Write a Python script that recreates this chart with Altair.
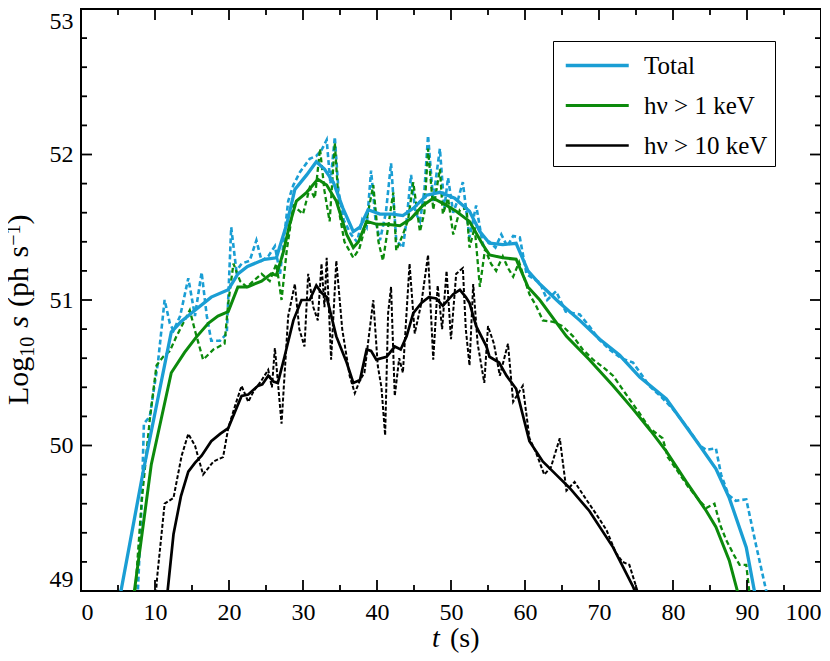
import altair as alt
import pandas as pd

SERIES = ["Total", "hν > 1 keV", "hν > 10 keV"]
COLORS = ["#1a9ed4", "#0c8a0c", "#000000"]

# ---- Total (solid, smoothed) ----
total_t = [5.0, 8.4, 12.2, 13.5, 15.4, 17.6, 19.9, 21.2, 22.5, 24.8, 26.4, 27.8, 28.9, 30.5, 31.8,
           32.9, 34.1, 35.4, 36.8, 37.7, 38.8, 40.4, 42.1, 43.5, 44.9, 46.7, 48.5, 50.5, 52.5, 53.9,
           55.2, 57.0, 58.8, 60.4, 62.0, 64.7, 67.4, 70.1, 72.8, 75.5, 79.1, 83.6, 85.8, 87.6, 89.9,
           91.0, 91.5]
total_v = [48.89, 49.82, 50.78, 50.85, 50.93, 51.02, 51.07, 51.18, 51.23, 51.28, 51.29, 51.52, 51.76,
           51.86, 51.95, 51.90, 51.81, 51.63, 51.47, 51.50, 51.62, 51.59, 51.59, 51.58, 51.63, 51.72,
           51.74, 51.70, 51.61, 51.47, 51.39, 51.38, 51.39, 51.20, 51.11, 50.98, 50.86, 50.73, 50.62,
           50.47, 50.32, 50.00, 49.84, 49.64, 49.30, 49.00, 48.85]

# ---- Total (dashed, raw) ----
total_raw_t = [7.6, 8.2, 8.5, 9.3, 10.4, 11.3, 12.0, 12.5, 13.4, 14.5, 15.4, 16.3, 17.0, 17.6, 18.8,
               19.7, 20.3, 21.0, 21.7, 22.8, 23.7, 24.4, 25.3, 26.2, 26.9, 28.0, 28.7, 29.6, 30.9,
               31.8, 32.5, 33.2, 33.7, 34.3, 34.8, 35.5, 36.5, 37.3, 38.0, 38.6, 39.2, 39.8, 40.4,
               41.2, 41.9, 42.6, 43.5, 44.0, 44.6, 45.2, 45.8, 46.4, 46.9, 47.6, 48.0, 48.5, 49.1,
               49.6, 50.3, 51.0, 51.6, 52.5, 53.4, 54.3, 55.2, 56.0, 56.8, 57.6, 58.4, 59.3, 60.2,
               61.0, 62.0, 63.0, 64.2, 65.5, 67.4, 68.7, 70.0, 71.4, 73.0, 74.6, 76.8, 78.5, 80.0,
               82.0, 83.6, 84.5, 85.8, 86.5, 87.5, 88.5, 89.9, 91.2, 92.6, 93.0]
total_raw_v = [48.90, 49.60, 50.15, 50.20, 50.57, 51.00, 50.84, 50.79, 50.89, 51.15, 50.89, 51.19,
               50.89, 50.72, 50.72, 50.77, 51.50, 51.20, 51.25, 51.27, 51.41, 51.27, 51.30, 51.37,
               51.18, 51.68, 51.79, 51.88, 51.97, 51.99, 52.03, 52.10, 51.80, 52.12, 51.75, 51.55,
               51.45, 51.40, 51.55, 51.50, 51.89, 51.55, 51.41, 51.60, 51.94, 51.41, 51.36, 51.55,
               51.86, 51.60, 51.54, 51.75, 52.13, 51.68, 51.85, 52.04, 51.63, 51.84, 51.60, 51.70,
               51.81, 51.43, 51.65, 51.38, 51.40, 51.36, 51.45, 51.37, 51.44, 51.43, 51.18, 51.15,
               51.12, 51.00, 51.06, 50.92, 50.90, 50.82, 50.73, 50.66, 50.60, 50.57, 50.41, 50.33,
               50.25, 50.12, 50.00, 49.97, 49.98, 49.80, 49.66, 49.62, 49.63, 49.32, 49.00, 48.90]

# ---- h nu > 1 keV (solid) ----
soft_t = [6.9, 9.5, 12.2, 14.0, 15.5, 17.2, 18.5, 19.9, 21.2, 22.5, 24.4, 25.7, 26.4, 27.3, 28.2,
          29.1, 30.5, 32.0, 33.2, 34.5, 35.9, 36.8, 37.5, 38.6, 40.0, 41.3, 43.1, 44.6, 46.2, 47.6,
          49.4, 50.7, 52.5, 54.3, 55.2, 57.0, 58.8, 60.4, 62.0, 65.6, 68.7, 71.9, 74.6, 77.0, 79.1,
          81.8, 84.5, 85.8, 87.6, 88.7, 89.0]
soft_v = [48.88, 49.87, 50.50, 50.64, 50.74, 50.84, 50.89, 50.92, 51.09, 51.09, 51.13, 51.18, 51.17,
          51.32, 51.52, 51.68, 51.74, 51.83, 51.79, 51.68, 51.45, 51.36, 51.40, 51.54, 51.52, 51.52,
          51.51, 51.56, 51.65, 51.70, 51.65, 51.61, 51.54, 51.38, 51.31, 51.29, 51.28, 51.09, 51.00,
          50.75, 50.59, 50.41, 50.25, 50.10, 49.96, 49.75, 49.55, 49.44, 49.21, 49.00, 48.93]

# ---- h nu > 1 keV (dashed) ----
soft_raw_t = [7.2, 8.2, 9.3, 10.2, 11.1, 12.0, 12.9, 13.8, 14.7, 15.4, 16.5, 17.9, 19.4, 19.9, 20.6,
              21.5, 22.4, 23.3, 24.4, 25.5, 26.4, 27.1, 27.8, 28.7, 30.0, 30.9, 31.6, 32.3, 32.9,
              33.6, 34.3, 34.9, 35.6, 36.8, 37.6, 38.4, 39.5, 40.2, 40.8, 41.5, 42.2, 42.6, 43.5,
              44.2, 44.9, 45.8, 46.4, 46.9, 47.6, 48.5, 48.9, 49.6, 50.3, 51.2, 52.1, 52.5, 53.2,
              53.9, 54.6, 55.4, 56.1, 57.0, 57.7, 58.4, 59.2, 60.6, 61.5, 62.4, 63.8, 65.1, 66.5,
              67.8, 69.2, 70.5, 71.9, 73.0, 74.1, 75.5, 76.8, 78.6, 79.3, 80.4, 82.0, 83.6, 84.5,
              85.6, 86.4, 87.2, 88.2, 89.0, 89.9, 90.3, 90.5]
soft_raw_v = [48.90, 49.62, 50.18, 50.55, 50.61, 50.65, 50.75, 50.84, 50.93, 50.79, 50.59, 50.66,
              50.70, 50.98, 51.25, 51.13, 51.09, 51.13, 51.18, 51.13, 51.25, 51.00, 51.34, 51.65,
              51.59, 51.77, 51.70, 52.04, 51.75, 51.54, 52.08, 51.60, 51.40, 51.29, 51.35, 51.50,
              51.79, 51.40, 51.27, 51.50, 51.74, 51.34, 51.45, 51.55, 51.81, 51.47, 51.60, 52.04,
              51.62, 51.90, 51.59, 51.70, 51.45, 51.62, 51.63, 51.36, 51.50, 51.09, 51.35, 51.25,
              51.20, 51.30, 51.22, 51.16, 51.26, 51.04, 50.96, 50.86, 50.85, 50.82, 50.75, 50.66,
              50.59, 50.54, 50.48, 50.40, 50.32, 50.22, 50.12, 50.05, 49.92, 49.84, 49.72, 49.62,
              49.57, 49.60, 49.45, 49.35, 49.25, 49.18, 49.18, 49.00, 48.90]

# ---- h nu > 10 keV (solid) ----
hard_t = [11.5, 12.5, 13.5, 14.5, 15.4, 16.3, 17.6, 18.8, 19.9, 20.8, 21.7, 22.6, 23.9, 24.5, 25.3,
          26.0, 26.6, 27.5, 28.7, 29.8, 30.9, 31.8, 32.5, 33.2, 34.5, 35.9, 36.8, 37.7, 38.6, 39.2,
          39.9, 41.3, 42.4, 43.2, 44.0, 44.9, 46.0, 47.0, 48.0, 48.9, 50.3, 51.2, 52.0, 52.5, 53.4,
          54.8, 55.2, 56.5, 57.5, 58.8, 59.7, 60.6, 62.4, 64.2, 66.0, 68.7, 71.9, 74.6, 75.0, 75.3]
hard_v = [48.90, 49.39, 49.65, 49.82, 49.88, 49.93, 50.03, 50.08, 50.12, 50.23, 50.34, 50.35, 50.41,
          50.42, 50.48, 50.44, 50.43, 50.61, 50.86, 51.00, 51.00, 51.10, 51.05, 51.02, 50.75, 50.57,
          50.43, 50.45, 50.66, 50.65, 50.59, 50.61, 50.68, 50.66, 50.75, 50.91, 50.98, 51.02, 51.01,
          50.96, 51.04, 51.07, 51.02, 50.98, 50.82, 50.68, 50.61, 50.57, 50.48, 50.39, 50.21, 50.03,
          49.89, 49.80, 49.71, 49.55, 49.30, 49.03, 48.98, 48.90]

# ---- h nu > 10 keV (dashed) ----
hard_raw_t = [10.0, 10.3, 11.3, 12.5, 13.6, 14.5, 15.4, 16.5, 17.9, 19.2, 19.9, 20.8, 21.7, 22.6,
              23.4, 24.3, 25.3, 25.8, 26.2, 27.1, 28.0, 28.9, 29.5, 30.2, 30.7, 31.4, 32.0, 32.5,
              32.9, 33.2, 33.8, 34.5, 35.3, 36.3, 37.0, 37.7, 38.3, 39.5, 40.1, 40.6, 41.1, 41.5,
              41.9, 42.4, 43.0, 43.5, 44.4, 45.1, 46.0, 46.9, 47.6, 48.2, 48.8, 49.4, 50.0, 50.7,
              51.6, 52.0, 52.5, 53.0, 53.6, 54.5, 55.0, 55.8, 56.6, 57.7, 58.4, 59.7, 60.6, 61.5,
              62.6, 63.5, 64.7, 65.6, 66.7, 68.0, 69.6, 71.0, 72.3, 73.2, 74.1, 75.2, 75.4]
hard_raw_v = [48.90, 49.10, 49.60, 49.64, 49.93, 50.08, 50.00, 49.80, 49.89, 49.92, 50.12, 50.27,
              50.41, 50.30, 50.38, 50.44, 50.52, 50.40, 50.67, 50.15, 50.89, 51.11, 50.80, 50.68,
              51.18, 50.95, 50.86, 51.25, 50.95, 51.29, 50.59, 51.27, 50.80, 50.48, 50.36, 50.45,
              50.50, 51.00, 50.55, 50.40, 50.07, 50.91, 51.09, 50.34, 50.60, 50.50, 51.25, 50.77,
              50.98, 51.31, 50.59, 51.10, 50.80, 51.20, 50.73, 51.18, 51.22, 50.80, 50.55, 51.11,
              50.70, 50.43, 50.82, 50.70, 50.48, 50.70, 50.30, 50.41, 50.05, 49.95, 49.80, 49.85,
              50.05, 49.69, 49.75, 49.65, 49.53, 49.42, 49.26, 49.20, 49.18, 49.00, 48.95]

x_major = [0, 10, 20, 30, 40, 50, 60, 70, 80, 90, 100]
x_minor = [5, 15, 25, 35, 45, 55, 65, 75, 85, 95]
y_major = [49, 50, 51, 52, 53]
y_minor = [49.2, 49.4, 49.6, 49.8, 50.2, 50.4, 50.6, 50.8, 51.2, 51.4, 51.6, 51.8,
           52.2, 52.4, 52.6, 52.8]


def frame(ts, vs, name):
    return pd.DataFrame({"t": ts, "v": vs, "series": name})


solid_df = pd.concat([frame(total_t, total_v, SERIES[0]),
                      frame(soft_t, soft_v, SERIES[1]),
                      frame(hard_t, hard_v, SERIES[2])], ignore_index=True)
dashed_df = pd.concat([frame(total_raw_t, total_raw_v, SERIES[0]),
                       frame(soft_raw_t, soft_raw_v, SERIES[1]),
                       frame(hard_raw_t, hard_raw_v, SERIES[2])], ignore_index=True)

W, H = 740, 582
FONT = "Liberation Serif"

x_scale = alt.Scale(domain=[0, 100], nice=False, zero=False)
y_scale = alt.Scale(domain=[49, 53], nice=False, zero=False)
x_axis = alt.Axis(values=x_major, labelFlush=True, labelPadding=9, title=None, ticks=False,
                  domain=False, grid=False, labelFont=FONT, labelFontSize=24, labelColor="black")
y_axis = alt.Axis(values=y_major, format="d", labelFlush=True, labelPadding=8, title=None,
                  ticks=False, domain=False, grid=False, labelFont=FONT, labelFontSize=24,
                  labelColor="black")
X = alt.X("t:Q", scale=x_scale, axis=x_axis)
Y = alt.Y("v:Q", scale=y_scale, axis=y_axis)

# legend line: custom horizontal path (63 px long)
legend = alt.Legend(title=None, orient="none", legendX=472, legendY=32,
                    symbolType="M-0.746,0H3.254", symbolSize=992,
                    labelFont=FONT, labelFontSize=25, labelColor="black",
                    labelOffset=49, padding=7, rowPadding=9, strokeColor="black")

solid = alt.Chart(solid_df).mark_line(clip=True).encode(
    x=X, y=Y,
    color=alt.Color("series:N", scale=alt.Scale(domain=SERIES, range=COLORS), legend=legend),
    strokeWidth=alt.StrokeWidth("series:N", scale=alt.Scale(domain=SERIES, range=[3.3, 2.7, 2.3]),
                                legend=legend),
)

dashed = alt.Chart(dashed_df).mark_line(clip=True).encode(
    x=X, y=Y,
    color=alt.Color("series:N", scale=alt.Scale(domain=SERIES, range=COLORS), legend=None),
    strokeWidth=alt.StrokeWidth("series:N", scale=alt.Scale(domain=SERIES, range=[2.6, 2.0, 1.0]),
                                legend=None),
    strokeDash=alt.StrokeDash("series:N", scale=alt.Scale(domain=SERIES, range=[[5, 3], [5, 3], [4, 2]]),
                              legend=None),
)

xmaj = pd.DataFrame({"t": x_major})
xmin = pd.DataFrame({"t": x_minor})
ymaj = pd.DataFrame({"v": y_major})
ymin = pd.DataFrame({"v": y_minor})
TW = 1.8
ticks = [
    alt.Chart(xmaj).mark_rule(color="black", strokeWidth=TW).encode(x=X, y=alt.value(H), y2=alt.value(H - 11)),
    alt.Chart(xmaj).mark_rule(color="black", strokeWidth=TW).encode(x=X, y=alt.value(0), y2=alt.value(11)),
    alt.Chart(xmin).mark_rule(color="black", strokeWidth=TW).encode(x=X, y=alt.value(H), y2=alt.value(H - 6)),
    alt.Chart(xmin).mark_rule(color="black", strokeWidth=TW).encode(x=X, y=alt.value(0), y2=alt.value(6)),
    alt.Chart(ymaj).mark_rule(color="black", strokeWidth=TW).encode(y=Y, x=alt.value(0), x2=alt.value(11)),
    alt.Chart(ymaj).mark_rule(color="black", strokeWidth=TW).encode(y=Y, x=alt.value(W), x2=alt.value(W - 11)),
    alt.Chart(ymin).mark_rule(color="black", strokeWidth=TW).encode(y=Y, x=alt.value(0), x2=alt.value(6)),
    alt.Chart(ymin).mark_rule(color="black", strokeWidth=TW).encode(y=Y, x=alt.value(W), x2=alt.value(W - 6)),
]

one = alt.Data(values=[{"k": 1}])


def label(text, x, y, size, italic=False, angle=0):
    kw = dict(align="left", baseline="alphabetic", font=FONT, fontSize=size, color="black")
    if italic:
        kw["fontStyle"] = "italic"
    if angle:
        kw["angle"] = angle
    return alt.Chart(one).mark_text(**kw).encode(x=alt.value(x), y=alt.value(y), text=alt.value(text))


# axis titles built from pieces (italic / sub / superscript)
BX = -53
TF, SF = 30, 20
titles = [
    label("t", 351, 638, 28, italic=True),
    label("(s)", 369, 638, 28),
    label("Log", BX, 396, TF, angle=270),
    label("10", BX + 6, 347.7, SF, angle=270),
    label("s", BX, 318.7, TF, italic=True, angle=270),
    label("(ph", BX, 298.0, TF, angle=270),
    label("s", BX, 248.5, TF, angle=270),
    label("\u22121", BX - 8, 236.8, SF, angle=270),
    label(")", BX, 215.5, TF, angle=270),
]

chart = alt.layer(dashed, solid, *ticks, *titles).resolve_scale(
    color="independent", strokeWidth="independent", strokeDash="independent"
).properties(
    width=W, height=H,
    autosize=alt.AutoSizeParams(type="none"),
    padding={"left": 73, "top": 1, "right": 0, "bottom": 62},
).configure(font=FONT).configure_axis(labelFont=FONT).configure_legend(labelFont=FONT
).configure_view(stroke="black", strokeWidth=2)

chart.save("out.html", embed_options={"renderer": "svg", "actions": False})
